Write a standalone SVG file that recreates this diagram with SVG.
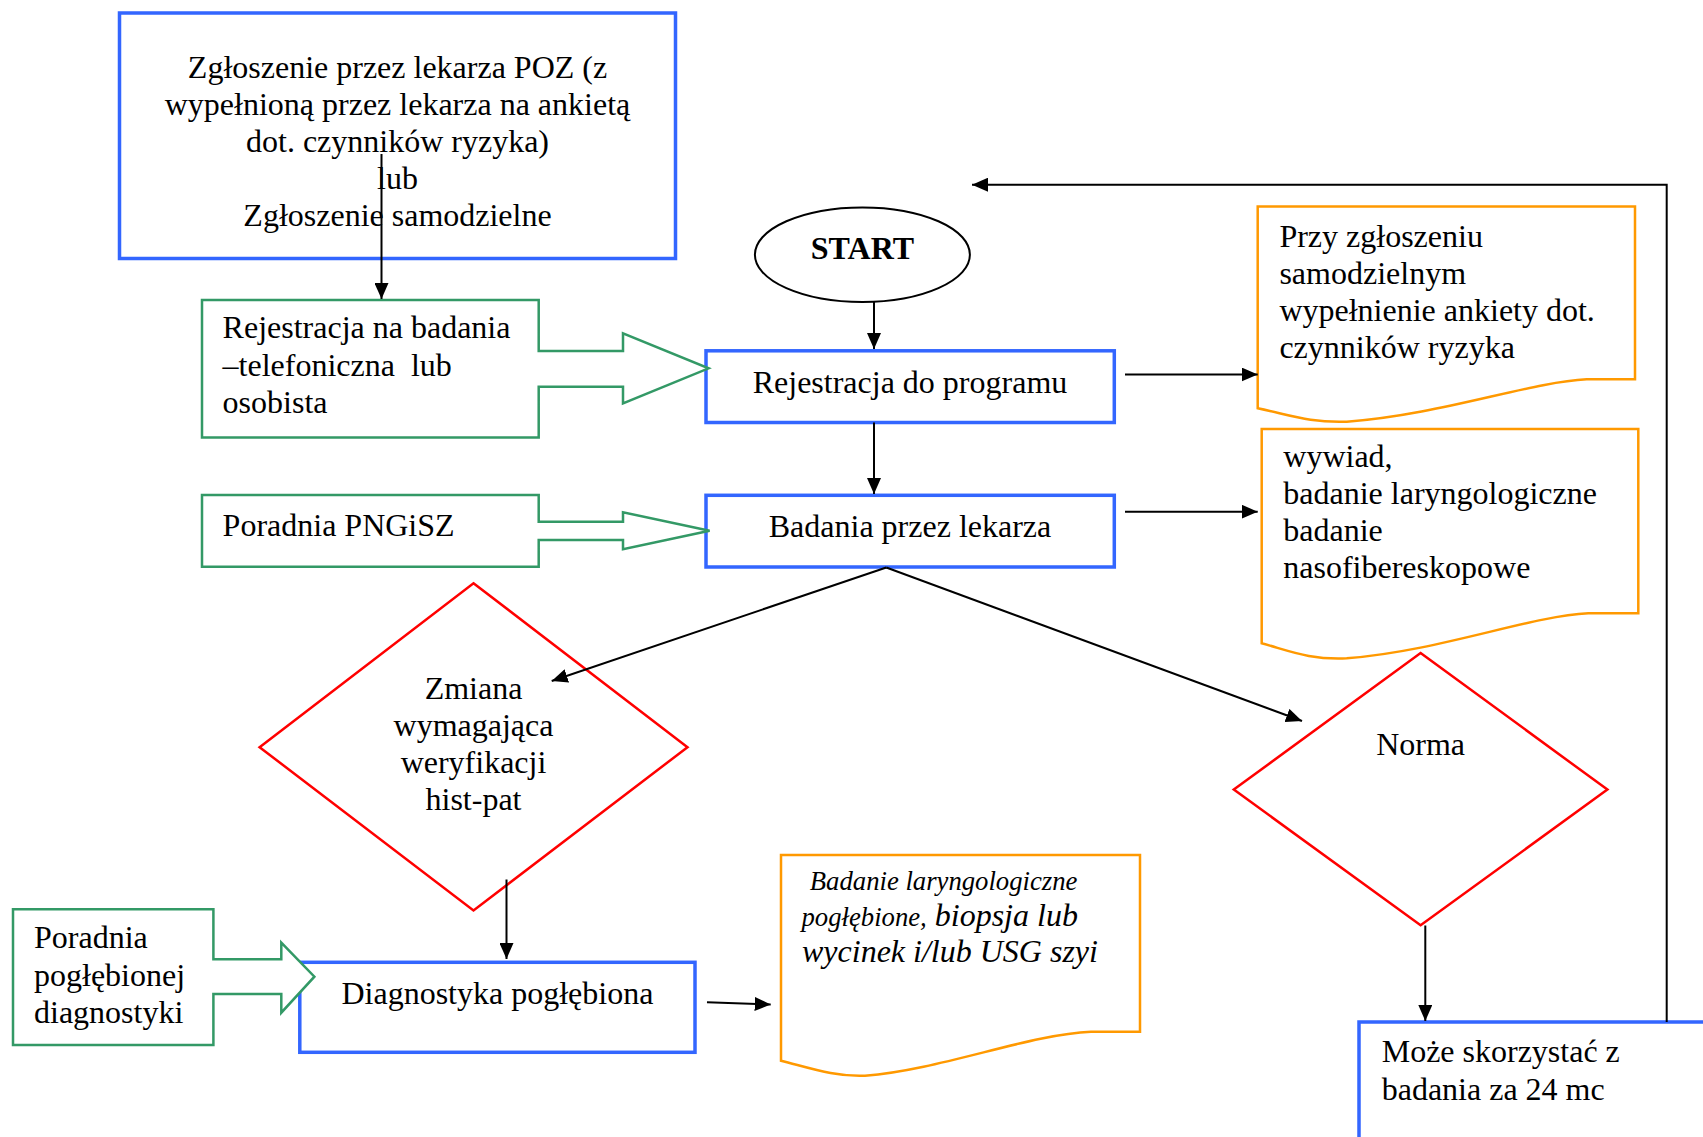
<svg xmlns="http://www.w3.org/2000/svg" width="1703" height="1137" viewBox="0 0 1703 1137">
<style>
text{font-family:"Liberation Serif","Times New Roman",serif;font-size:32px;fill:#000}
.c{text-anchor:middle}
.blue{fill:#fff;stroke:#3366FF;stroke-width:3.5}
.green{fill:#fff;stroke:#339966;stroke-width:2.5}
.orange{fill:#fff;stroke:#FF9900;stroke-width:2.5}
.red{fill:#fff;stroke:#FF0000;stroke-width:2.5}
.ln{fill:none;stroke:#000;stroke-width:2}
.it{font-style:italic}
text.sm,tspan.sm{font-size:26.7px}
.b{font-weight:bold}
</style>
<defs>
<marker id="ah" viewBox="0 0 16 14" refX="16" refY="7" markerWidth="16" markerHeight="14" markerUnits="userSpaceOnUse" orient="auto">
<path d="M0,0 L16,7 L0,14 z" fill="#000"/>
</marker>
</defs>
<rect width="1703" height="1137" fill="#fff"/>

<g id="n-zgloszenie">
<rect class="blue" x="119.5" y="13" width="556" height="245.5"/>
<text class="c" x="397.5" y="78">Zgłoszenie przez lekarza POZ (z</text>
<text class="c" x="397.5" y="115">wypełnioną przez lekarza na ankietą</text>
<text class="c" x="397.5" y="152">dot. czynników ryzyka)</text>
<text class="c" x="397.5" y="189">lub</text>
<text class="c" x="397.5" y="226">Zgłoszenie samodzielne</text>
</g>

<g id="n-start">
<ellipse cx="862.4" cy="254.7" rx="107.5" ry="47.3" fill="#fff" stroke="#000" stroke-width="2"/>
<text class="c b" x="862.4" y="258.5">START</text>
</g>

<g id="n-rej-program">
<rect class="blue" x="706" y="350.8" width="408.3" height="71.7"/>
<text class="c" x="910" y="393">Rejestracja do programu</text>
</g>

<g id="n-badania">
<rect class="blue" x="706" y="495.3" width="408.3" height="71.7"/>
<text class="c" x="910" y="536.5">Badania przez lekarza</text>
</g>

<g id="n-diagnostyka">
<rect class="blue" x="299.8" y="962.3" width="395.2" height="90"/>
<text class="c" x="497.4" y="1003.5">Diagnostyka pogłębiona</text>
</g>

<g id="n-moze">
<rect class="blue" x="1359" y="1022" width="400" height="200"/>
<text x="1381.7" y="1062">Może skorzystać z</text>
<text x="1381.7" y="1100">badania za 24 mc</text>
</g>

<g id="n-rej-badania">
<path class="green" d="M202,300 H538.7 V351 H623 V333.3 L708.6,368.3 L623,403.3 V386.7 H538.7 V437.5 H202 Z"/>
<text x="222.6" y="338.3">Rejestracja na badania</text>
<text x="222.6" y="375.5" style="white-space:pre">–telefoniczna  lub</text>
<text x="222.6" y="412.8">osobista</text>
</g>

<g id="n-pngisz">
<path class="green" d="M202,495 H538.7 V521.7 H623 V512.3 L709.6,530.7 L623,549.3 V540 H538.7 V566.8 H202 Z"/>
<text x="222.6" y="535.5">Poradnia PNGiSZ</text>
</g>

<g id="n-poradnia-pogl">
<path class="green" d="M13,909.3 H213.4 V959.3 H281.3 V942.7 L314.4,976.7 L281.3,1012.7 V994 H213.4 V1045 H13 Z"/>
<text x="34" y="948">Poradnia</text>
<text x="34" y="985.5">pogłębionej</text>
<text x="34" y="1022.5">diagnostyki</text>
</g>

<g id="n-doc-ankieta">
<path class="orange" d="M1257.7,206.4 H1635 V379.3 H1586.7 C1530,382 1440,415 1346.7,421.7 C1310,423 1290,415 1257.7,408.3 Z"/>
<text x="1279.4" y="246.5">Przy zgłoszeniu</text>
<text x="1279.4" y="283.5">samodzielnym</text>
<text x="1279.4" y="320.5">wypełnienie ankiety dot.</text>
<text x="1279.4" y="357.5">czynników ryzyka</text>
</g>

<g id="n-doc-wywiad">
<path class="orange" d="M1261.7,429 H1638.3 V613.3 H1588.3 C1530,616 1440,651 1346.7,658.3 C1310,660 1290,651 1261.7,643.3 Z"/>
<text x="1283.3" y="466.5">wywiad,</text>
<text x="1283.3" y="503.5">badanie laryngologiczne</text>
<text x="1283.3" y="540.5">badanie</text>
<text x="1283.3" y="577.5">nasofibereskopowe</text>
</g>

<g id="n-doc-diag">
<path class="orange" d="M781,855 H1140 V1031.7 H1091 C1030,1034 940,1070 865,1075.7 C835,1077 810,1068 781,1060.7 Z"/>
<text class="it sm" x="809.8" y="889.5">Badanie laryngologiczne</text>
<text class="it" x="801.5" y="925.5"><tspan class="sm">pogłębione,</tspan> biopsja lub</text>
<text class="it" x="802" y="961.5">wycinek i/lub USG szyi</text>
</g>

<g id="n-zmiana">
<path class="red" d="M473.5,583.2 L687.5,747.2 L473.5,910.4 L259.6,747.2 Z"/>
<text class="c" x="473.5" y="698.5">Zmiana</text>
<text class="c" x="473.5" y="735.5">wymagająca</text>
<text class="c" x="473.5" y="772.5">weryfikacji</text>
<text class="c" x="473.5" y="809.5">hist-pat</text>
</g>

<g id="n-norma">
<path class="red" d="M1420.6,653 L1607.4,789.6 L1420.6,925.2 L1233.8,789.6 Z"/>
<text class="c" x="1420.6" y="755">Norma</text>
</g>

<g id="connectors">
<line class="ln" x1="381.5" y1="154" x2="381.5" y2="299" marker-end="url(#ah)"/>
<line class="ln" x1="874" y1="302" x2="874" y2="349" marker-end="url(#ah)"/>
<line class="ln" x1="874" y1="422.5" x2="874" y2="494" marker-end="url(#ah)"/>
<line class="ln" x1="1125" y1="374.5" x2="1257.7" y2="374.5" marker-end="url(#ah)"/>
<line class="ln" x1="1125" y1="511.7" x2="1257.7" y2="511.7" marker-end="url(#ah)"/>
<line class="ln" x1="886.3" y1="567.5" x2="551.7" y2="681" marker-end="url(#ah)"/>
<line class="ln" x1="886.3" y1="567.5" x2="1302" y2="721" marker-end="url(#ah)"/>
<line class="ln" x1="506.5" y1="879.5" x2="506.5" y2="959" marker-end="url(#ah)"/>
<line class="ln" x1="707" y1="1002.3" x2="770.7" y2="1004.5" marker-end="url(#ah)"/>
<line class="ln" x1="1425.3" y1="925.5" x2="1425.3" y2="1021" marker-end="url(#ah)"/>
<polyline class="ln" points="1666.7,1022 1666.7,184.7 972,184.7" marker-end="url(#ah)"/>
</g>
</svg>
